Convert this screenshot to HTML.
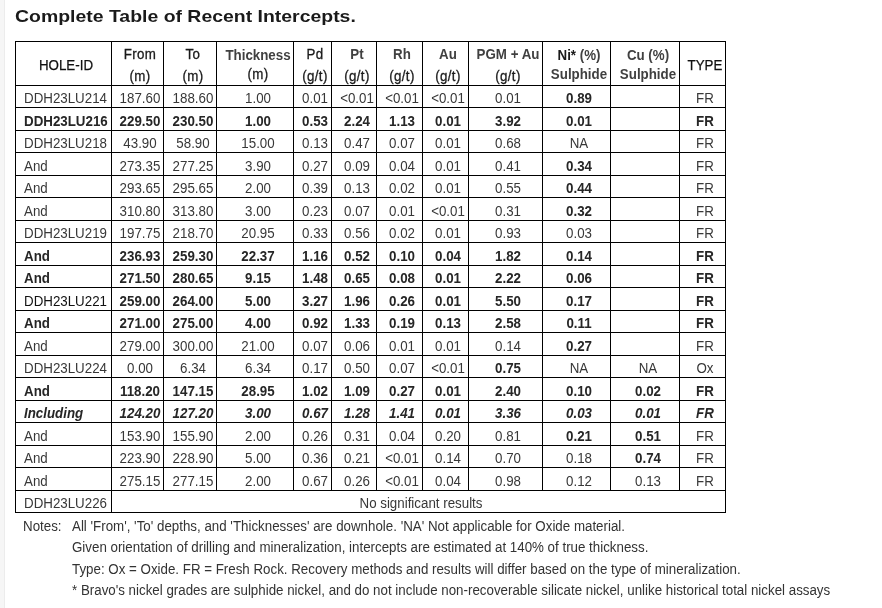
<!DOCTYPE html>
<html><head><meta charset="utf-8"><style>
html,body{margin:0;padding:0;background:#fff;width:882px;height:608px;overflow:hidden;position:relative}
html{filter:grayscale(1)}
body{font-family:"Liberation Sans",sans-serif;font-variant-ligatures:none}
.strip{position:absolute;left:0;top:0;width:4px;height:608px;background:#f6f6f6}
.strip2{position:absolute;left:4px;top:0;width:1px;height:608px;background:#ececec}
.title{position:absolute;left:15px;top:0;font-weight:bold;font-size:17px;line-height:17px;color:#1a1a1a;white-space:nowrap;transform:scaleX(1.143);transform-origin:0 0}
.h{position:absolute;background:#000;height:1px}
.v{position:absolute;background:#000;width:1px}
.c{position:absolute;white-space:nowrap;font-size:14px;line-height:15px;height:15px;color:#383838;transform:scaleX(0.952)}
.l{transform-origin:0 0}
.l{text-align:left}
.m{text-align:center}
.b{font-weight:bold;color:#262626}
.d{color:#111}
.i{font-weight:bold;font-style:italic;color:#262626}
.hr{color:#1a1a1a;-webkit-text-stroke:0.3px #1a1a1a;letter-spacing:0.35px}
.hn{color:#111;-webkit-text-stroke:0.25px #111}
.hb{font-weight:bold;color:#404040}
.k{color:#1a1a1a}
.note{position:absolute;font-size:14px;line-height:15px;color:#333;white-space:nowrap;transform:scaleX(0.952);transform-origin:0 0}
</style></head><body>
<div class="strip"></div><div class="strip2"></div>
<div class="title" style="top:8px">Complete Table of Recent Intercepts.</div>

<div class="h" style="left:15px;top:41px;width:711px"></div>
<div class="h" style="left:15px;top:85px;width:711px"></div>
<div class="h" style="left:15px;top:107px;width:711px"></div>
<div class="h" style="left:15px;top:130px;width:711px"></div>
<div class="h" style="left:15px;top:152px;width:711px"></div>
<div class="h" style="left:15px;top:175px;width:711px"></div>
<div class="h" style="left:15px;top:197px;width:711px"></div>
<div class="h" style="left:15px;top:220px;width:711px"></div>
<div class="h" style="left:15px;top:242px;width:711px"></div>
<div class="h" style="left:15px;top:265px;width:711px"></div>
<div class="h" style="left:15px;top:287px;width:711px"></div>
<div class="h" style="left:15px;top:310px;width:711px"></div>
<div class="h" style="left:15px;top:332px;width:711px"></div>
<div class="h" style="left:15px;top:355px;width:711px"></div>
<div class="h" style="left:15px;top:377px;width:711px"></div>
<div class="h" style="left:15px;top:400px;width:711px"></div>
<div class="h" style="left:15px;top:422px;width:711px"></div>
<div class="h" style="left:15px;top:445px;width:711px"></div>
<div class="h" style="left:15px;top:467px;width:711px"></div>
<div class="h" style="left:15px;top:490px;width:711px"></div>
<div class="h" style="left:15px;top:512px;width:711px"></div>
<div class="v" style="left:15px;top:41px;height:472px"></div>
<div class="v" style="left:111px;top:41px;height:472px"></div>
<div class="v" style="left:163px;top:41px;height:450px"></div>
<div class="v" style="left:216px;top:41px;height:450px"></div>
<div class="v" style="left:293px;top:41px;height:450px"></div>
<div class="v" style="left:331px;top:41px;height:450px"></div>
<div class="v" style="left:376px;top:41px;height:450px"></div>
<div class="v" style="left:422px;top:41px;height:450px"></div>
<div class="v" style="left:468px;top:41px;height:450px"></div>
<div class="v" style="left:542px;top:41px;height:450px"></div>
<div class="v" style="left:610px;top:41px;height:450px"></div>
<div class="v" style="left:679px;top:41px;height:450px"></div>
<div class="v" style="left:725px;top:41px;height:472px"></div>
<div class="c m hn" style="left:-34.0px;top:58px;width:200px">HOLE-ID</div>
<div class="c m hr" style="left:40.0px;top:47px;width:200px">From</div>
<div class="c m hr" style="left:40.0px;top:69px;width:200px">(m)</div>
<div class="c m hr" style="left:92.5px;top:47px;width:200px">To</div>
<div class="c m hr" style="left:92.5px;top:69px;width:200px">(m)</div>
<div class="c m hb" style="left:157.5px;top:48px;width:200px">Thickness</div>
<div class="c m hr" style="left:157.5px;top:67px;width:200px">(m)</div>
<div class="c m hr" style="left:215.0px;top:47px;width:200px">Pd</div>
<div class="c m hr" style="left:215.0px;top:69px;width:200px">(g/t)</div>
<div class="c m hb" style="left:256.5px;top:47px;width:200px">Pt</div>
<div class="c m hr" style="left:256.5px;top:69px;width:200px">(g/t)</div>
<div class="c m hb" style="left:302.0px;top:47px;width:200px">Rh</div>
<div class="c m hr" style="left:302.0px;top:69px;width:200px">(g/t)</div>
<div class="c m hb" style="left:348.0px;top:47px;width:200px">Au</div>
<div class="c m hr" style="left:348.0px;top:69px;width:200px">(g/t)</div>
<div class="c m hb" style="left:408.0px;top:47px;width:200px">PGM + Au</div>
<div class="c m hr" style="left:408.0px;top:69px;width:200px">(g/t)</div>
<div class="c m hb" style="left:479.0px;top:48px;width:200px"><span class="k">Ni*</span> (%)</div>
<div class="c m hb" style="left:479.0px;top:67px;width:200px">Sulphide</div>
<div class="c m hb" style="left:547.5px;top:48px;width:200px">Cu (%)</div>
<div class="c m hb" style="left:547.5px;top:67px;width:200px">Sulphide</div>
<div class="c m hn" style="left:605.0px;top:58px;width:200px">TYPE</div>
<div class="c l " style="left:24px;top:91px;width:200px">DDH23LU214</div>
<div class="c m " style="left:40.0px;top:91px;width:200px">187.60</div>
<div class="c m " style="left:92.5px;top:91px;width:200px">188.60</div>
<div class="c m " style="left:157.5px;top:91px;width:200px">1.00</div>
<div class="c m " style="left:215.0px;top:91px;width:200px">0.01</div>
<div class="c m " style="left:256.5px;top:91px;width:200px">&lt;0.01</div>
<div class="c m " style="left:302.0px;top:91px;width:200px">&lt;0.01</div>
<div class="c m " style="left:348.0px;top:91px;width:200px">&lt;0.01</div>
<div class="c m " style="left:408.0px;top:91px;width:200px">0.01</div>
<div class="c m b" style="left:479.0px;top:91px;width:200px">0.89</div>
<div class="c m " style="left:605.0px;top:91px;width:200px">FR</div>
<div class="c l b" style="left:24px;top:114px;width:200px">DDH23LU216</div>
<div class="c m b" style="left:40.0px;top:114px;width:200px">229.50</div>
<div class="c m b" style="left:92.5px;top:114px;width:200px">230.50</div>
<div class="c m b" style="left:157.5px;top:114px;width:200px">1.00</div>
<div class="c m b" style="left:215.0px;top:114px;width:200px">0.53</div>
<div class="c m b" style="left:256.5px;top:114px;width:200px">2.24</div>
<div class="c m b" style="left:302.0px;top:114px;width:200px">1.13</div>
<div class="c m b" style="left:348.0px;top:114px;width:200px">0.01</div>
<div class="c m b" style="left:408.0px;top:114px;width:200px">3.92</div>
<div class="c m b" style="left:479.0px;top:114px;width:200px">0.01</div>
<div class="c m b" style="left:605.0px;top:114px;width:200px">FR</div>
<div class="c l " style="left:24px;top:136px;width:200px">DDH23LU218</div>
<div class="c m " style="left:40.0px;top:136px;width:200px">43.90</div>
<div class="c m " style="left:92.5px;top:136px;width:200px">58.90</div>
<div class="c m " style="left:157.5px;top:136px;width:200px">15.00</div>
<div class="c m " style="left:215.0px;top:136px;width:200px">0.13</div>
<div class="c m " style="left:256.5px;top:136px;width:200px">0.47</div>
<div class="c m " style="left:302.0px;top:136px;width:200px">0.07</div>
<div class="c m " style="left:348.0px;top:136px;width:200px">0.01</div>
<div class="c m " style="left:408.0px;top:136px;width:200px">0.68</div>
<div class="c m " style="left:479.0px;top:136px;width:200px">NA</div>
<div class="c m " style="left:605.0px;top:136px;width:200px">FR</div>
<div class="c l " style="left:24px;top:159px;width:200px">And</div>
<div class="c m " style="left:40.0px;top:159px;width:200px">273.35</div>
<div class="c m " style="left:92.5px;top:159px;width:200px">277.25</div>
<div class="c m " style="left:157.5px;top:159px;width:200px">3.90</div>
<div class="c m " style="left:215.0px;top:159px;width:200px">0.27</div>
<div class="c m " style="left:256.5px;top:159px;width:200px">0.09</div>
<div class="c m " style="left:302.0px;top:159px;width:200px">0.04</div>
<div class="c m " style="left:348.0px;top:159px;width:200px">0.01</div>
<div class="c m " style="left:408.0px;top:159px;width:200px">0.41</div>
<div class="c m b" style="left:479.0px;top:159px;width:200px">0.34</div>
<div class="c m " style="left:605.0px;top:159px;width:200px">FR</div>
<div class="c l " style="left:24px;top:181px;width:200px">And</div>
<div class="c m " style="left:40.0px;top:181px;width:200px">293.65</div>
<div class="c m " style="left:92.5px;top:181px;width:200px">295.65</div>
<div class="c m " style="left:157.5px;top:181px;width:200px">2.00</div>
<div class="c m " style="left:215.0px;top:181px;width:200px">0.39</div>
<div class="c m " style="left:256.5px;top:181px;width:200px">0.13</div>
<div class="c m " style="left:302.0px;top:181px;width:200px">0.02</div>
<div class="c m " style="left:348.0px;top:181px;width:200px">0.01</div>
<div class="c m " style="left:408.0px;top:181px;width:200px">0.55</div>
<div class="c m b" style="left:479.0px;top:181px;width:200px">0.44</div>
<div class="c m " style="left:605.0px;top:181px;width:200px">FR</div>
<div class="c l " style="left:24px;top:204px;width:200px">And</div>
<div class="c m " style="left:40.0px;top:204px;width:200px">310.80</div>
<div class="c m " style="left:92.5px;top:204px;width:200px">313.80</div>
<div class="c m " style="left:157.5px;top:204px;width:200px">3.00</div>
<div class="c m " style="left:215.0px;top:204px;width:200px">0.23</div>
<div class="c m " style="left:256.5px;top:204px;width:200px">0.07</div>
<div class="c m " style="left:302.0px;top:204px;width:200px">0.01</div>
<div class="c m " style="left:348.0px;top:204px;width:200px">&lt;0.01</div>
<div class="c m " style="left:408.0px;top:204px;width:200px">0.31</div>
<div class="c m b" style="left:479.0px;top:204px;width:200px">0.32</div>
<div class="c m " style="left:605.0px;top:204px;width:200px">FR</div>
<div class="c l " style="left:24px;top:226px;width:200px">DDH23LU219</div>
<div class="c m " style="left:40.0px;top:226px;width:200px">197.75</div>
<div class="c m " style="left:92.5px;top:226px;width:200px">218.70</div>
<div class="c m " style="left:157.5px;top:226px;width:200px">20.95</div>
<div class="c m " style="left:215.0px;top:226px;width:200px">0.33</div>
<div class="c m " style="left:256.5px;top:226px;width:200px">0.56</div>
<div class="c m " style="left:302.0px;top:226px;width:200px">0.02</div>
<div class="c m " style="left:348.0px;top:226px;width:200px">0.01</div>
<div class="c m " style="left:408.0px;top:226px;width:200px">0.93</div>
<div class="c m " style="left:479.0px;top:226px;width:200px">0.03</div>
<div class="c m " style="left:605.0px;top:226px;width:200px">FR</div>
<div class="c l b" style="left:24px;top:249px;width:200px">And</div>
<div class="c m b" style="left:40.0px;top:249px;width:200px">236.93</div>
<div class="c m b" style="left:92.5px;top:249px;width:200px">259.30</div>
<div class="c m b" style="left:157.5px;top:249px;width:200px">22.37</div>
<div class="c m b" style="left:215.0px;top:249px;width:200px">1.16</div>
<div class="c m b" style="left:256.5px;top:249px;width:200px">0.52</div>
<div class="c m b" style="left:302.0px;top:249px;width:200px">0.10</div>
<div class="c m b" style="left:348.0px;top:249px;width:200px">0.04</div>
<div class="c m b" style="left:408.0px;top:249px;width:200px">1.82</div>
<div class="c m b" style="left:479.0px;top:249px;width:200px">0.14</div>
<div class="c m b" style="left:605.0px;top:249px;width:200px">FR</div>
<div class="c l b" style="left:24px;top:271px;width:200px">And</div>
<div class="c m b" style="left:40.0px;top:271px;width:200px">271.50</div>
<div class="c m b" style="left:92.5px;top:271px;width:200px">280.65</div>
<div class="c m b" style="left:157.5px;top:271px;width:200px">9.15</div>
<div class="c m b" style="left:215.0px;top:271px;width:200px">1.48</div>
<div class="c m b" style="left:256.5px;top:271px;width:200px">0.65</div>
<div class="c m b" style="left:302.0px;top:271px;width:200px">0.08</div>
<div class="c m b" style="left:348.0px;top:271px;width:200px">0.01</div>
<div class="c m b" style="left:408.0px;top:271px;width:200px">2.22</div>
<div class="c m b" style="left:479.0px;top:271px;width:200px">0.06</div>
<div class="c m b" style="left:605.0px;top:271px;width:200px">FR</div>
<div class="c l d" style="left:24px;top:294px;width:200px">DDH23LU221</div>
<div class="c m b" style="left:40.0px;top:294px;width:200px">259.00</div>
<div class="c m b" style="left:92.5px;top:294px;width:200px">264.00</div>
<div class="c m b" style="left:157.5px;top:294px;width:200px">5.00</div>
<div class="c m b" style="left:215.0px;top:294px;width:200px">3.27</div>
<div class="c m b" style="left:256.5px;top:294px;width:200px">1.96</div>
<div class="c m b" style="left:302.0px;top:294px;width:200px">0.26</div>
<div class="c m b" style="left:348.0px;top:294px;width:200px">0.01</div>
<div class="c m b" style="left:408.0px;top:294px;width:200px">5.50</div>
<div class="c m b" style="left:479.0px;top:294px;width:200px">0.17</div>
<div class="c m b" style="left:605.0px;top:294px;width:200px">FR</div>
<div class="c l b" style="left:24px;top:316px;width:200px">And</div>
<div class="c m b" style="left:40.0px;top:316px;width:200px">271.00</div>
<div class="c m b" style="left:92.5px;top:316px;width:200px">275.00</div>
<div class="c m b" style="left:157.5px;top:316px;width:200px">4.00</div>
<div class="c m b" style="left:215.0px;top:316px;width:200px">0.92</div>
<div class="c m b" style="left:256.5px;top:316px;width:200px">1.33</div>
<div class="c m b" style="left:302.0px;top:316px;width:200px">0.19</div>
<div class="c m b" style="left:348.0px;top:316px;width:200px">0.13</div>
<div class="c m b" style="left:408.0px;top:316px;width:200px">2.58</div>
<div class="c m b" style="left:479.0px;top:316px;width:200px">0.11</div>
<div class="c m b" style="left:605.0px;top:316px;width:200px">FR</div>
<div class="c l " style="left:24px;top:339px;width:200px">And</div>
<div class="c m " style="left:40.0px;top:339px;width:200px">279.00</div>
<div class="c m " style="left:92.5px;top:339px;width:200px">300.00</div>
<div class="c m " style="left:157.5px;top:339px;width:200px">21.00</div>
<div class="c m " style="left:215.0px;top:339px;width:200px">0.07</div>
<div class="c m " style="left:256.5px;top:339px;width:200px">0.06</div>
<div class="c m " style="left:302.0px;top:339px;width:200px">0.01</div>
<div class="c m " style="left:348.0px;top:339px;width:200px">0.01</div>
<div class="c m " style="left:408.0px;top:339px;width:200px">0.14</div>
<div class="c m b" style="left:479.0px;top:339px;width:200px">0.27</div>
<div class="c m " style="left:605.0px;top:339px;width:200px">FR</div>
<div class="c l " style="left:24px;top:361px;width:200px">DDH23LU224</div>
<div class="c m " style="left:40.0px;top:361px;width:200px">0.00</div>
<div class="c m " style="left:92.5px;top:361px;width:200px">6.34</div>
<div class="c m " style="left:157.5px;top:361px;width:200px">6.34</div>
<div class="c m " style="left:215.0px;top:361px;width:200px">0.17</div>
<div class="c m " style="left:256.5px;top:361px;width:200px">0.50</div>
<div class="c m " style="left:302.0px;top:361px;width:200px">0.07</div>
<div class="c m " style="left:348.0px;top:361px;width:200px">&lt;0.01</div>
<div class="c m b" style="left:408.0px;top:361px;width:200px">0.75</div>
<div class="c m " style="left:479.0px;top:361px;width:200px">NA</div>
<div class="c m " style="left:547.5px;top:361px;width:200px">NA</div>
<div class="c m " style="left:605.0px;top:361px;width:200px">Ox</div>
<div class="c l b" style="left:24px;top:384px;width:200px">And</div>
<div class="c m b" style="left:40.0px;top:384px;width:200px">118.20</div>
<div class="c m b" style="left:92.5px;top:384px;width:200px">147.15</div>
<div class="c m b" style="left:157.5px;top:384px;width:200px">28.95</div>
<div class="c m b" style="left:215.0px;top:384px;width:200px">1.02</div>
<div class="c m b" style="left:256.5px;top:384px;width:200px">1.09</div>
<div class="c m b" style="left:302.0px;top:384px;width:200px">0.27</div>
<div class="c m b" style="left:348.0px;top:384px;width:200px">0.01</div>
<div class="c m b" style="left:408.0px;top:384px;width:200px">2.40</div>
<div class="c m b" style="left:479.0px;top:384px;width:200px">0.10</div>
<div class="c m b" style="left:547.5px;top:384px;width:200px">0.02</div>
<div class="c m b" style="left:605.0px;top:384px;width:200px">FR</div>
<div class="c l i" style="left:24px;top:406px;width:200px">Including</div>
<div class="c m i" style="left:40.0px;top:406px;width:200px">124.20</div>
<div class="c m i" style="left:92.5px;top:406px;width:200px">127.20</div>
<div class="c m i" style="left:157.5px;top:406px;width:200px">3.00</div>
<div class="c m i" style="left:215.0px;top:406px;width:200px">0.67</div>
<div class="c m i" style="left:256.5px;top:406px;width:200px">1.28</div>
<div class="c m i" style="left:302.0px;top:406px;width:200px">1.41</div>
<div class="c m i" style="left:348.0px;top:406px;width:200px">0.01</div>
<div class="c m i" style="left:408.0px;top:406px;width:200px">3.36</div>
<div class="c m i" style="left:479.0px;top:406px;width:200px">0.03</div>
<div class="c m i" style="left:547.5px;top:406px;width:200px">0.01</div>
<div class="c m i" style="left:605.0px;top:406px;width:200px">FR</div>
<div class="c l " style="left:24px;top:429px;width:200px">And</div>
<div class="c m " style="left:40.0px;top:429px;width:200px">153.90</div>
<div class="c m " style="left:92.5px;top:429px;width:200px">155.90</div>
<div class="c m " style="left:157.5px;top:429px;width:200px">2.00</div>
<div class="c m " style="left:215.0px;top:429px;width:200px">0.26</div>
<div class="c m " style="left:256.5px;top:429px;width:200px">0.31</div>
<div class="c m " style="left:302.0px;top:429px;width:200px">0.04</div>
<div class="c m " style="left:348.0px;top:429px;width:200px">0.20</div>
<div class="c m " style="left:408.0px;top:429px;width:200px">0.81</div>
<div class="c m b" style="left:479.0px;top:429px;width:200px">0.21</div>
<div class="c m b" style="left:547.5px;top:429px;width:200px">0.51</div>
<div class="c m " style="left:605.0px;top:429px;width:200px">FR</div>
<div class="c l " style="left:24px;top:451px;width:200px">And</div>
<div class="c m " style="left:40.0px;top:451px;width:200px">223.90</div>
<div class="c m " style="left:92.5px;top:451px;width:200px">228.90</div>
<div class="c m " style="left:157.5px;top:451px;width:200px">5.00</div>
<div class="c m " style="left:215.0px;top:451px;width:200px">0.36</div>
<div class="c m " style="left:256.5px;top:451px;width:200px">0.21</div>
<div class="c m " style="left:302.0px;top:451px;width:200px">&lt;0.01</div>
<div class="c m " style="left:348.0px;top:451px;width:200px">0.14</div>
<div class="c m " style="left:408.0px;top:451px;width:200px">0.70</div>
<div class="c m " style="left:479.0px;top:451px;width:200px">0.18</div>
<div class="c m b" style="left:547.5px;top:451px;width:200px">0.74</div>
<div class="c m " style="left:605.0px;top:451px;width:200px">FR</div>
<div class="c l " style="left:24px;top:474px;width:200px">And</div>
<div class="c m " style="left:40.0px;top:474px;width:200px">275.15</div>
<div class="c m " style="left:92.5px;top:474px;width:200px">277.15</div>
<div class="c m " style="left:157.5px;top:474px;width:200px">2.00</div>
<div class="c m " style="left:215.0px;top:474px;width:200px">0.67</div>
<div class="c m " style="left:256.5px;top:474px;width:200px">0.26</div>
<div class="c m " style="left:302.0px;top:474px;width:200px">&lt;0.01</div>
<div class="c m " style="left:348.0px;top:474px;width:200px">0.04</div>
<div class="c m " style="left:408.0px;top:474px;width:200px">0.98</div>
<div class="c m " style="left:479.0px;top:474px;width:200px">0.12</div>
<div class="c m " style="left:547.5px;top:474px;width:200px">0.13</div>
<div class="c m " style="left:605.0px;top:474px;width:200px">FR</div>
<div class="c l " style="left:24px;top:496px;width:200px">DDH23LU226</div>
<div class="c m" style="left:120px;top:496px;width:602px">No significant results</div>
<div class="note" style="left:23px;top:519px">Notes:</div>
<div class="note" style="left:72px;top:519px">All 'From', 'To' depths, and 'Thicknesses' are downhole. 'NA' Not applicable for Oxide material.</div>
<div class="note" style="left:72px;top:540px">Given orientation of drilling and mineralization, intercepts are estimated at 140% of true thickness.</div>
<div class="note" style="left:72px;top:562px">Type: Ox = Oxide. FR = Fresh Rock. Recovery methods and results will differ based on the type of mineralization.</div>
<div class="note" style="left:72px;top:583px">* Bravo's nickel grades are sulphide nickel, and do not include non-recoverable silicate nickel, unlike historical total nickel assays</div>
</body></html>
